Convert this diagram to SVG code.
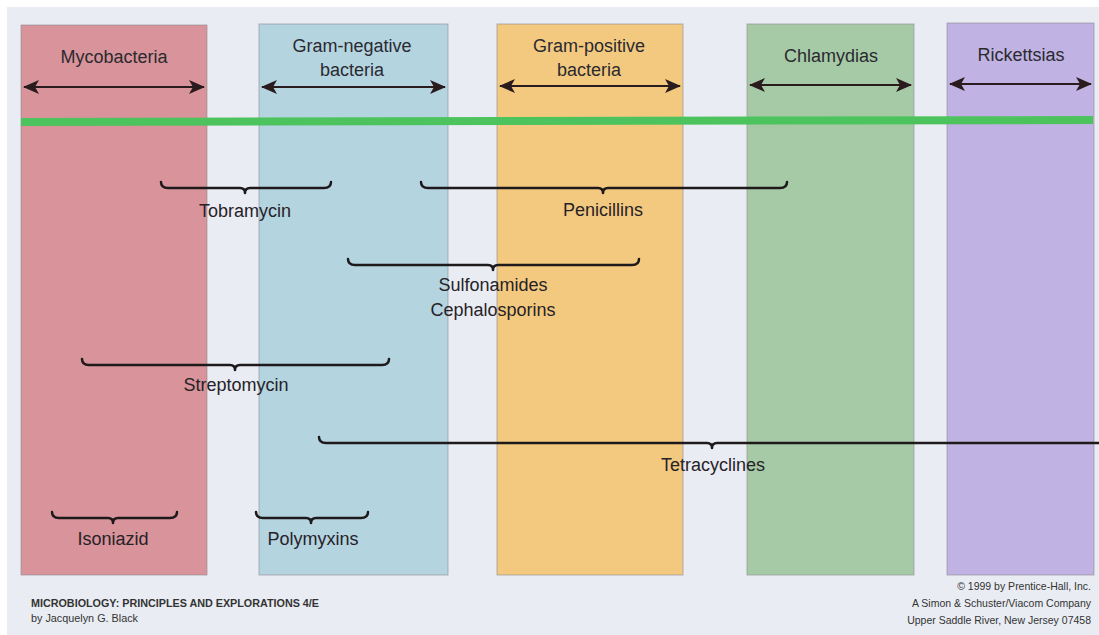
<svg xmlns="http://www.w3.org/2000/svg" width="1099" height="635" viewBox="0 0 1099 635">
<defs>
<style>
.col{stroke:#8e8a90;stroke-opacity:0.6;stroke-width:1}
.hdr{font-family:"Liberation Sans",Arial,sans-serif;font-size:18px;fill:#2a2a30;text-anchor:middle}
.lbl{font-family:"Liberation Sans",Arial,sans-serif;font-size:18px;fill:#262228;text-anchor:middle}
.brace{fill:none;stroke:#1e1a1c;stroke-width:2.5;stroke-linecap:round;stroke-linejoin:round}
.arr{stroke:#2a1c1e;stroke-width:2.2;marker-start:url(#ah);marker-end:url(#ah)}
.foot{font-family:"Liberation Sans",Arial,sans-serif;font-size:10.5px;fill:#333}
</style>
<marker id="ah" viewBox="0 0 16 14" refX="15" refY="7" markerWidth="16" markerHeight="14" markerUnits="userSpaceOnUse" orient="auto-start-reverse">
<path d="M0,0 L16,7 L0,14 L4,7 z" fill="#2a1c1e"/>
</marker>
</defs>
<rect x="0" y="0" width="1099" height="635" fill="#ffffff"/>
<rect x="7" y="7" width="1092" height="628" fill="#e9ecf2"/>

<g id="col-mycobacteria">
<rect class="col" x="21" y="25" width="186" height="550" fill="#d9939a"/>
<text class="hdr" x="114" y="63">Mycobacteria</text>
<line class="arr" x1="24" y1="87" x2="204" y2="87"/>
</g>
<g id="col-gramneg">
<rect class="col" x="259" y="24" width="189" height="551" fill="#b4d4e0"/>
<text class="hdr" x="352" y="52">Gram-negative</text>
<text class="hdr" x="352" y="76">bacteria</text>
<line class="arr" x1="262" y1="87" x2="445" y2="87"/>
</g>
<g id="col-grampos">
<rect class="col" x="497" y="24" width="186" height="551" fill="#f3c97f"/>
<text class="hdr" x="589" y="52">Gram-positive</text>
<text class="hdr" x="589" y="76">bacteria</text>
<line class="arr" x1="500" y1="86" x2="680" y2="86"/>
</g>
<g id="col-chlamydias">
<rect class="col" x="747" y="24" width="167" height="551" fill="#a6caa6"/>
<text class="hdr" x="831" y="62">Chlamydias</text>
<line class="arr" x1="750" y1="85" x2="911" y2="85"/>
</g>
<g id="col-rickettsias">
<rect class="col" x="947" y="23" width="147" height="552" fill="#c0b2e2"/>
<text class="hdr" x="1021" y="61">Rickettsias</text>
<line class="arr" x1="950" y1="84" x2="1091" y2="84"/>
</g>

<g id="green-line">
<line x1="21" y1="122" x2="1093" y2="120" stroke="#4cc35c" stroke-width="8"/>
</g>

<g id="connectors">
<path id="br-tobramycin" class="brace" d="M161,182 Q161,188 168,188 H240 Q245,188 245,193 Q245,188 250,188 H324 Q331,188 331,182"/>
<path id="br-penicillins" class="brace" d="M421,182 Q421,188 428,188 H598 Q603,188 603,193 Q603,188 608,188 H780 Q787,188 787,182"/>
<path id="br-sulfonamides" class="brace" d="M348,259 Q348,265 355,265 H488 Q493,265 493,270 Q493,265 498,265 H632 Q639,265 639,259"/>
<path id="br-streptomycin" class="brace" d="M82,359 Q82,365 89,365 H230 Q235,365 235,370 Q235,365 240,365 H382 Q389,365 389,359"/>
<path id="br-tetracyclines" class="brace" d="M319,437 Q319,443 326,443 H707 Q712,443 712,448 Q712,443 717,443 H1100"/>
<path id="br-isoniazid" class="brace" d="M52,512 Q52,518 59,518 H108 Q113,518 113,523 Q113,518 118,518 H170 Q177,518 177,512"/>
<path id="br-polymyxins" class="brace" d="M256,512 Q256,518 263,518 H306 Q311,518 311,523 Q311,518 316,518 H361 Q368,518 368,512"/>
</g>

<g id="drug-tobramycin"><text class="lbl" x="245" y="217">Tobramycin</text></g>
<g id="drug-penicillins"><text class="lbl" x="603" y="216">Penicillins</text></g>
<g id="drug-sulfonamides"><text class="lbl" x="493" y="291">Sulfonamides</text>
<text class="lbl" x="493" y="316">Cephalosporins</text></g>
<g id="drug-streptomycin"><text class="lbl" x="236" y="391">Streptomycin</text></g>
<g id="drug-tetracyclines"><text class="lbl" x="713" y="471">Tetracyclines</text></g>
<g id="drug-isoniazid"><text class="lbl" x="113" y="545">Isoniazid</text></g>
<g id="drug-polymyxins"><text class="lbl" x="313" y="545">Polymyxins</text></g>

<g id="footer">
<text class="foot" x="31" y="607" font-weight="bold" textLength="288" lengthAdjust="spacingAndGlyphs">MICROBIOLOGY: PRINCIPLES AND EXPLORATIONS 4/E</text>
<text class="foot" x="31" y="622" textLength="107" lengthAdjust="spacingAndGlyphs">by Jacquelyn G. Black</text>
<text class="foot" x="1091" y="590" text-anchor="end">© 1999 by Prentice-Hall, Inc.</text>
<text class="foot" x="1091" y="607" text-anchor="end">A Simon &amp; Schuster/Viacom Company</text>
<text class="foot" x="1091" y="624" text-anchor="end">Upper Saddle River, New Jersey 07458</text>
</g>
</svg>
